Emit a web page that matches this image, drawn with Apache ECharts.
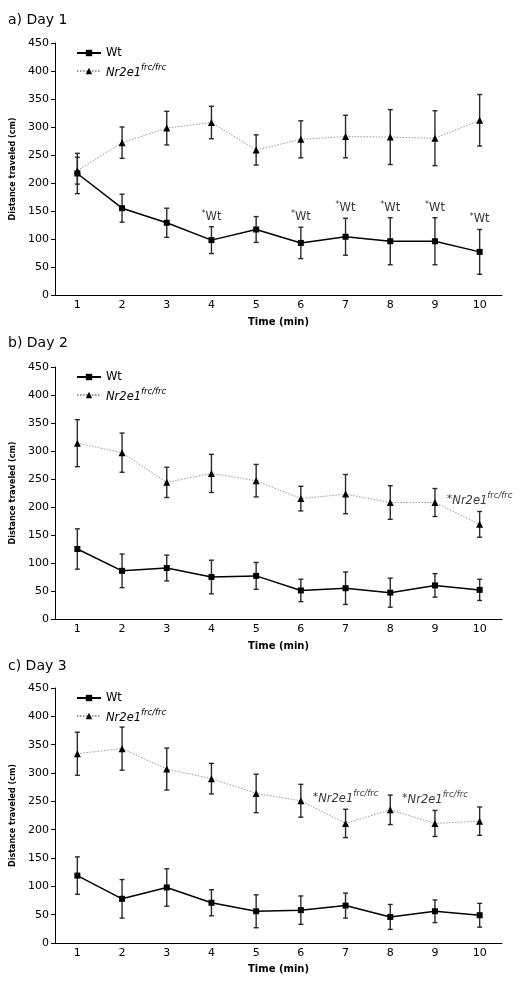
<!DOCTYPE html>
<html>
<head>
<meta charset="utf-8">
<script src="https://cdn.jsdelivr.net/npm/echarts@6/dist/echarts.min.js"></script>
<style>
html,body{margin:0;padding:0;background:#fff;}
#chart{width:522px;height:985px;}
</style>
</head>
<body>
<div id="chart"></div>
<script>
const categories = ['1','2','3','4','5','6','7','8','9','10'];
const yTicks = [0, 450, 50]; // min, max, interval

// Day 1
const wtDay1 = [217, 155, 129, 98, 117, 93, 104, 96, 96, 77];
const wtErrDay1 = [36, 25, 26, 24, 23, 28, 33, 42, 42, 40];
const nrDay1 = [222, 272, 298, 308, 259, 278, 283, 282, 280, 312];
const nrErrDay1 = [24, 28, 30, 29, 27, 33, 38, 49, 49, 46];
const sigDay1 = [3, 5, 6, 7, 8, 9]; // '*Wt' above Wt

// Day 2
const wtDay2 = [125, 86, 91, 75, 77, 51, 55, 47, 60, 52];
const wtErrDay2 = [36, 30, 23, 30, 24, 20, 29, 26, 21, 19];
const nrDay2 = [314, 297, 244, 260, 247, 215, 223, 208, 208, 169];
const nrErrDay2 = [42, 35, 27, 34, 29, 22, 35, 30, 25, 23];
const sigDay2 = [9]; // '*Nr2e1' above Nr2e1

// Day 3
const wtDay3 = [119, 78, 98, 71, 56, 58, 66, 46, 56, 49];
const wtErrDay3 = [33, 34, 33, 23, 29, 25, 22, 22, 20, 21];
const nrDay3 = [334, 343, 307, 290, 264, 251, 211, 235, 211, 215];
const nrErrDay3 = [38, 38, 37, 27, 34, 29, 25, 26, 23, 25];
const sigDay3 = [6, 8];

const panelTitles = ['a) Day 1', 'b) Day 2', 'c) Day 3'];
const xName = 'Time (min)';
const yName = 'Distance traveled (cm)';
const wtName = 'Wt';
const nrName = 'Nr2e1';

const FONT = 'DejaVu Sans';
const panels = [
  {wt: wtDay1, wtErr: wtErrDay1, nr: nrDay1, nrErr: nrErrDay1, sig: sigDay1, sigOn: 'wt'},
  {wt: wtDay2, wtErr: wtErrDay2, nr: nrDay2, nrErr: nrErrDay2, sig: sigDay2, sigOn: 'nr'},
  {wt: wtDay3, wtErr: wtErrDay3, nr: nrDay3, nrErr: nrErrDay3, sig: sigDay3, sigOn: 'nr'}
];
const gridBoxes = [
  {top: 43, height: 252},
  {top: 367, height: 252},
  {top: 688, height: 255}
];
const titleTops = [8, 331, 654];

function errRender(params, api) {
  const x = api.value(0);
  const hi = api.coord([x, api.value(1)]);
  const lo = api.coord([x, api.value(2)]);
  const w = 2.5;
  const st = {stroke: '#2a2a2a', lineWidth: 1.4};
  return {
    type: 'group',
    children: [
      {type: 'line', shape: {x1: hi[0], y1: hi[1], x2: lo[0], y2: lo[1]}, style: st},
      {type: 'line', shape: {x1: hi[0]-w, y1: hi[1], x2: hi[0]+w, y2: hi[1]}, style: st},
      {type: 'line', shape: {x1: lo[0]-w, y1: lo[1], x2: lo[0]+w, y2: lo[1]}, style: st}
    ]
  };
}

const supRich = {
  it: {fontFamily: FONT, fontStyle: 'italic', fontSize: 11.5, color: '#000', lineHeight: 16, verticalAlign: 'bottom'},
  sup: {fontFamily: FONT, fontStyle: 'italic', fontSize: 8.5, color: '#000', lineHeight: 16, verticalAlign: 'top', padding: [0,0,6,0]},
  n: {fontFamily: FONT, fontSize: 11, color: '#000', lineHeight: 16},
  star: {fontFamily: FONT, fontSize: 8, color: '#000', lineHeight: 16, padding: [0,0,6,0]},
  st: {fontFamily: FONT, fontSize: 11.5, color: '#000', lineHeight: 16}
};

const option = {
  animation: false,
  backgroundColor: '#fff',
  title: panelTitles.map((t, i) => ({
    text: t, left: 3, top: titleTops[i],
    textStyle: {fontFamily: FONT, fontSize: 14, fontWeight: 'normal', color: '#000'}
  })),
  grid: gridBoxes.map(g => ({left: 55, right: 20, top: g.top, height: g.height})),
  legend: gridBoxes.map(g => ({
    data: [wtName, nrName],
    orient: 'vertical',
    left: 71, top: g.top - 1,
    itemWidth: 24, itemHeight: 8, itemGap: 4,
    selectedMode: false,
    formatter: name => name === nrName ? '{it|Nr2e1}{sup|frc/frc}' : '{st|Wt}',
    textStyle: {fontFamily: FONT, fontSize: 11, color: '#000', rich: supRich}
  })),
  xAxis: gridBoxes.map((g, i) => ({
    type: 'category', gridIndex: i, data: categories, boundaryGap: true,
    name: xName, nameLocation: 'middle', nameGap: i === 2 ? 21 : 22,
    nameTextStyle: {fontFamily: FONT, fontSize: 10, fontWeight: 'bold', color: '#000'},
    axisLine: {lineStyle: {color: '#000', width: 1}},
    axisTick: {alignWithLabel: true, length: 3, lineStyle: {color: '#000'}},
    axisLabel: {fontFamily: FONT, fontSize: 11, color: '#000', margin: 5},
    splitLine: {show: false}
  })),
  yAxis: gridBoxes.map((g, i) => ({
    type: 'value', gridIndex: i, min: yTicks[0], max: yTicks[1], interval: yTicks[2],
    name: yName, nameLocation: 'middle', nameGap: 36,
    nameTextStyle: {fontFamily: FONT, fontSize: 8, fontWeight: 'bold', color: '#000'},
    axisLine: {show: true, lineStyle: {color: '#000', width: 1}},
    axisTick: {show: true, length: 4, lineStyle: {color: '#000'}},
    axisLabel: {fontFamily: FONT, fontSize: 11, color: '#000', margin: 6},
    splitLine: {show: false}
  })),
  series: []
};

panels.forEach((p, i) => {
  option.series.push({
    name: 'errNr' + i, type: 'custom', xAxisIndex: i, yAxisIndex: i,
    renderItem: errRender, encode: {x: 0, y: [1, 2]}, z: 3,
    data: p.nr.map((v, k) => [k, v + p.nrErr[k], v - p.nrErr[k]])
  });
  option.series.push({
    name: 'errWt' + i, type: 'custom', xAxisIndex: i, yAxisIndex: i,
    renderItem: errRender, encode: {x: 0, y: [1, 2]}, z: 3,
    data: p.wt.map((v, k) => [k, v + p.wtErr[k], v - p.wtErr[k]])
  });
  option.series.push({
    name: nrName, type: 'line', xAxisIndex: i, yAxisIndex: i, data: p.nr,
    symbol: 'triangle', symbolSize: 7, z: 4,
    lineStyle: {color: '#9a9a9a', width: 1, type: [1.5, 1.5]},
    itemStyle: {color: '#000'}
  });
  option.series.push({
    name: wtName, type: 'line', xAxisIndex: i, yAxisIndex: i, data: p.wt,
    symbol: 'rect', symbolSize: 6, z: 5,
    lineStyle: {color: '#000', width: 1.5},
    itemStyle: {color: '#000'}
  });
  const src = p.sigOn === 'wt' ? p.wt : p.nr;
  const srcErr = p.sigOn === 'wt' ? p.wtErr : p.nrErr;
  option.series.push({
    name: 'sig' + i, type: 'scatter', xAxisIndex: i, yAxisIndex: i,
    symbolSize: 0, silent: true, z: 6,
    data: p.sig.map(k => [k, src[k] + srcErr[k]]),
    label: {
      show: true, position: 'top', distance: p.sigOn === 'wt' ? 2 : 4,
      color: '#000', fontFamily: FONT, fontSize: 11,
      formatter: p.sigOn === 'wt' ? '{star|*}{st|Wt}' : '{n|*}{it|Nr2e1}{sup|frc/frc}',
      rich: supRich
    }
  });
});

const chart = echarts.init(document.getElementById('chart'), null, {renderer: 'canvas'});
chart.setOption(option);
</script>
</body>
</html>
